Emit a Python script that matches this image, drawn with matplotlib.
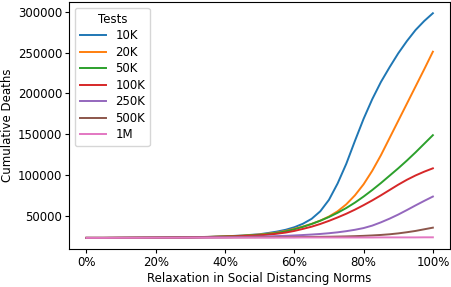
import matplotlib
matplotlib.use("Agg")
import matplotlib.pyplot as plt
from matplotlib.ticker import PercentFormatter

# ── Data ──────────────────────────────────────────────────────
relaxation = [0, 5, 10, 15, 20, 25, 30, 35, 40, 45, 50,
              52.5, 55, 57.5, 60, 62.5, 65, 67.5, 70, 72.5, 75,
              77.5, 80, 82.5, 85, 87.5, 90, 92.5, 95, 97.5, 100]

deaths_10k  = [23500, 23500, 23600, 23700, 23800, 24000, 24300, 24700, 25400, 26400, 28000,
               29500, 31200, 33400, 36500, 40800, 46800, 56000, 70000, 90000, 114000,
               142000, 169000, 193000, 214000, 232000, 249000, 264000, 277500, 288500, 298000]
deaths_20k  = [23500, 23500, 23600, 23700, 23800, 24000, 24300, 24700, 25300, 26200, 27600,
               28700, 30000, 32000, 34600, 37400, 40600, 44600, 49600, 56000, 64500,
               75500, 89000, 105500, 124500, 145500, 166500, 187500, 208500, 229500, 251000]
deaths_50k  = [23500, 23500, 23600, 23700, 23800, 24000, 24300, 24600, 25200, 26000, 27200,
               28200, 29500, 31500, 34000, 37000, 40500, 44500, 49000, 54200, 60000,
               66600, 74000, 82000, 90500, 99500, 108500, 118000, 128000, 138500, 149000]
deaths_100k = [23500, 23500, 23600, 23700, 23800, 23900, 24200, 24500, 25000, 25700, 26600,
               27500, 28600, 30000, 32000, 34500, 37200, 40500, 44300, 48500, 53000,
               58000, 63500, 69300, 75500, 82000, 88500, 94500, 99800, 104400, 108500]
deaths_250k = [23500, 23500, 23600, 23700, 23800, 23900, 24000, 24200, 24400, 24700, 25000,
               25300, 25700, 26000, 26500, 27000, 27600, 28300, 29200, 30300, 31700,
               33400, 35500, 38500, 42500, 47000, 52000, 57500, 63200, 68700, 74000]
deaths_500k = [23500, 23500, 23600, 23600, 23700, 23800, 23900, 24000, 24100, 24200, 24300,
               24300, 24400, 24450, 24500, 24600, 24700, 24800, 24900, 25100, 25300,
               25600, 26000, 26500, 27100, 27900, 29000, 30400, 32000, 34000, 36000]
deaths_1m   = [23500, 23500, 23600, 23600, 23700, 23700, 23800, 23800, 23800, 23900, 23900,
               23900, 23900, 23900, 23900, 24000, 24000, 24000, 24000, 24000, 24000,
               24000, 24000, 24000, 24100, 24100, 24100, 24100, 24100, 24200, 24200]

series = [
    ("10K", deaths_10k),
    ("20K", deaths_20k),
    ("50K", deaths_50k),
    ("100K", deaths_100k),
    ("250K", deaths_250k),
    ("500K", deaths_500k),
    ("1M", deaths_1m),
]

# ── Plot ──────────────────────────────────────────────────────
fig = plt.figure(figsize=(4.52, 2.87), dpi=100)
ax = fig.add_axes([0.153, 0.132, 0.843, 0.861])

for label, values in series:
    ax.plot(relaxation, values, label=label, linewidth=1.4)

ax.xaxis.set_major_formatter(PercentFormatter(xmax=100, decimals=0))
ax.set_xlabel("Relaxation in Social Distancing Norms", fontsize=8.5, labelpad=2)
ax.set_ylabel("Cumulative Deaths", fontsize=8.5, labelpad=3)
ax.tick_params(labelsize=8.5, length=3, pad=2)

ax.legend(title="Tests", loc="upper left", fontsize=8.5, title_fontsize=8.5,
          handlelength=2.2, labelspacing=0.3, borderpad=0.4)

plt.savefig("out.png", dpi=100)
plt.close()
